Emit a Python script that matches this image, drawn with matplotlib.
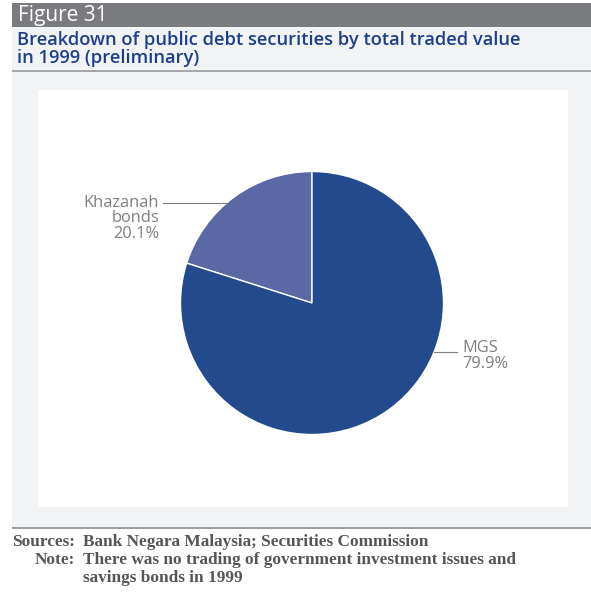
import numpy as np
import matplotlib.pyplot as plt
from matplotlib.patches import Rectangle

# traded value shares, 1999 (preliminary)
labels = ["Khazanah\nbonds", "MGS"]
shares = [20.1, 79.9]
colors = ["#5b68a6", "#224a8d"]

W, H = 591, 592
fig = plt.figure(figsize=(W / 100, H / 100), dpi=100)
fig.patch.set_facecolor("white")

def px(x, y):
    # pixel (from top-left) -> figure fraction
    return x / W, 1 - y / H

def box(x0, y0, x1, y1, color, z=0):
    fx0, fy1 = px(x0, y1)
    fig.patches.append(Rectangle((fx0, fy1), (x1 - x0) / W, (y1 - y0) / H,
                                 transform=fig.transFigure, facecolor=color,
                                 edgecolor="none", zorder=z))

# panel background, header band, white plot box
box(12, 27, W, 528, "#f2f3f5")
box(12, 3, W, 27, "#797b7f")
box(38, 90, 568, 507, "white", z=1)
box(12, 70, W, 72, "#a5a7aa", z=1)
box(12, 527, W, 529, "#9c9ea1", z=1)

fig.text(*px(18, 16), "Figure 31", color="white", fontsize=15,
         family="Open Sans", va="center", ha="left")
fig.text(*px(17, 49), "Breakdown of public debt securities by total traded value\nin 1999 (preliminary)",
         color="#1e3f8c", fontsize=13.2, family="Open Sans", fontweight="semibold",
         va="center", ha="left", linespacing=0.95)

# pie
cx, cy, r = 312, 303, 131.5
ax = fig.add_axes([(cx - r) / W, 1 - (cy + r) / H, 2 * r / W, 2 * r / H])
ax.pie(shares, colors=colors, startangle=90, counterclock=True,
       wedgeprops=dict(edgecolor="white", linewidth=1.0))
ax.set_xlim(-1, 1)
ax.set_ylim(-1, 1)
ax.set_aspect("equal")
ax.axis("off")
ax.set_zorder(2)

def d(x, y):
    # pixel position -> pie data units
    return (x - cx) / r, (cy - y) / r

# va="baseline" pins the last line of a multi-line label
lab_kw = dict(color="#7f7f7f", fontsize=11.8, family="Open Sans",
              linespacing=0.97, va="baseline")
# Khazanah leader, ends on the wedge rim
ly = d(0, 203)[1]
ax.plot([d(163, 0)[0], -np.sqrt(1 - ly ** 2)], [ly, ly], color="#7f7f7f",
        lw=0.8, clip_on=False)
ax.text(*d(159, 238), f"{labels[0]}\n{shares[0]:.1f}%", ha="right", **lab_kw)
# MGS leader
ly = d(0, 352)[1]
ax.plot([np.sqrt(1 - ly ** 2), d(457, 0)[0]], [ly, ly], color="#7f7f7f",
        lw=0.8, clip_on=False)
ax.text(*d(462, 368), f"{labels[1]}\n{shares[1]:.1f}%", ha="left", **lab_kw)

foot_kw = dict(color="#555555", fontsize=12.4, family="Liberation Serif",
               fontweight="bold", va="center")
fig.text(*px(75, 542), "Sources:", ha="right", **foot_kw)
fig.text(*px(83, 542), "Bank Negara Malaysia; Securities Commission", ha="left", **foot_kw)
fig.text(*px(75, 560), "Note:", ha="right", **foot_kw)
fig.text(*px(83, 560), "There was no trading of government investment issues and", ha="left", **foot_kw)
fig.text(*px(83, 578), "savings bonds in 1999", ha="left", **foot_kw)

fig.savefig("out.png", dpi=100)
